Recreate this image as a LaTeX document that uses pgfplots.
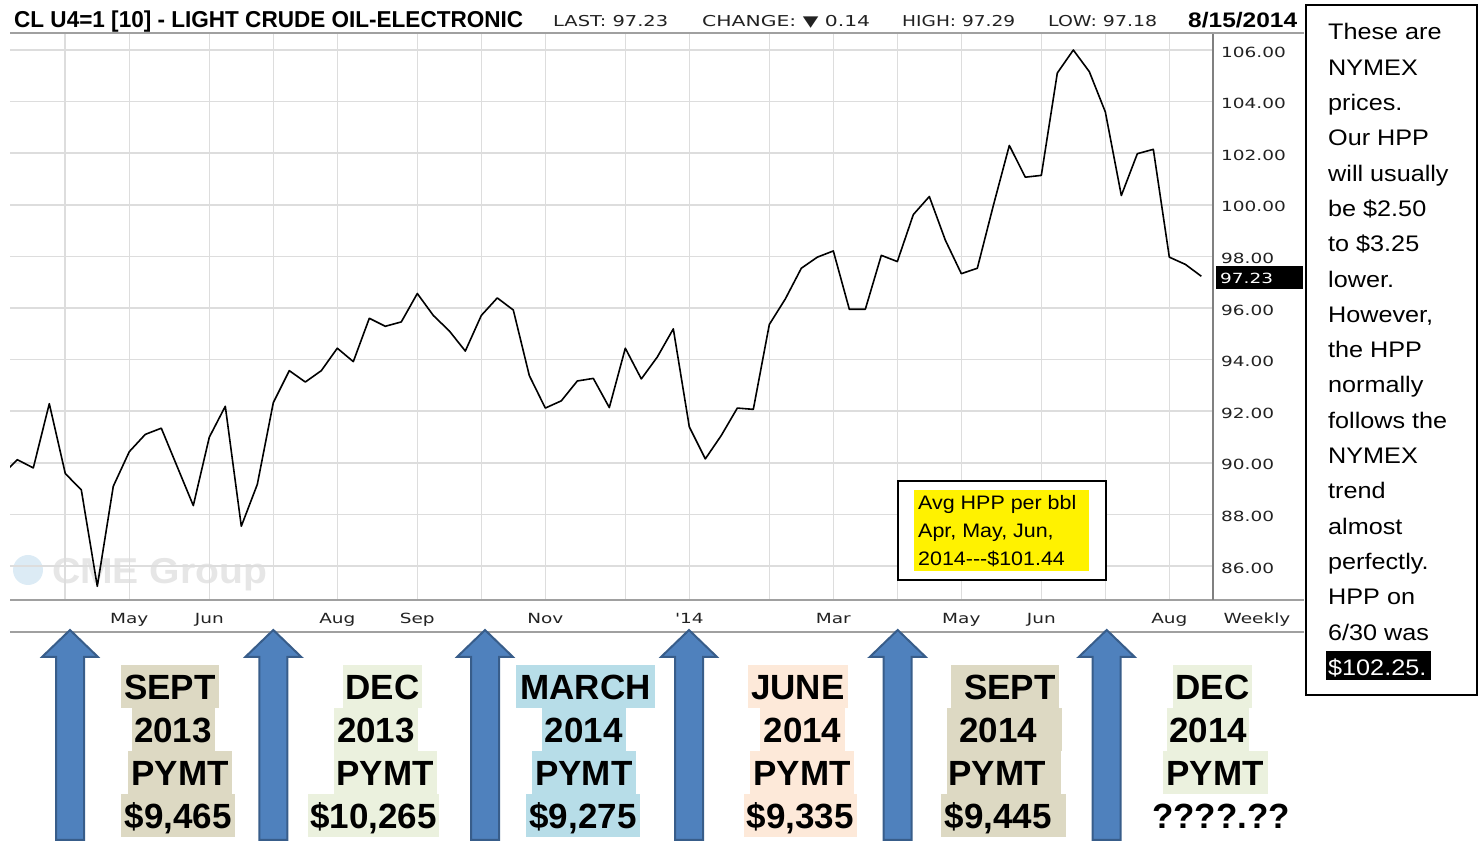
\documentclass[border=0pt]{standalone}
\usepackage{pgfplots}
\pgfplotsset{compat=1.18}
\usepackage{pgfplotstable}
\usepackage{graphicx}
\usepackage{fontspec}
\setmainfont{Liberation Sans}
\newfontfamily\chf{DejaVu Sans}
\definecolor{gridc}{HTML}{DDDDDD}
\definecolor{framec}{HTML}{A0A0A0}
\definecolor{khaki}{HTML}{DDD9C3}
\definecolor{lgreen}{HTML}{EBF1DE}
\definecolor{lblue}{HTML}{B7DDE8}
\definecolor{peach}{HTML}{FDE9D9}
\definecolor{arrowb}{HTML}{4F81BD}
\definecolor{arrowd}{HTML}{385D8A}
\definecolor{tickc}{HTML}{222222}
\definecolor{wm}{HTML}{E6E6E6}
\definecolor{cmeblue}{HTML}{DCEBF5}

\newcommand\tk[1]{\scalebox{1.32}[1]{\chf\fontsize{14}{14}\selectfont #1}}
\newcommand\rb[1]{\scalebox{1.12}[1]{\fontsize{22.5}{22.5}\selectfont #1}}
\newcommand\yb[1]{\scalebox{1.1}[1]{\fontsize{19.5}{19.5}\selectfont #1}}
\newcommand\biglab{\fontsize{35}{35}\selectfont\bfseries}
\newcommand\lab[6]{%
  \fill[#1] (#2,{665+43*#4}) rectangle (#3,{708+43*#4});
  \node[anchor=base, inner sep=0pt] at (#5,{700+43*#4}) {\biglab #6};}
\newcommand\arrowat[1]{%
  \draw[fill=arrowb, draw=arrowd, line width=2pt, line join=miter]
    (#1,630) -- ({#1+28},657) -- ({#1+14},657) -- ({#1+14},840) --
    ({#1-14},840) -- ({#1-14},657) -- ({#1-28},657) -- cycle;}

\pgfplotstableread{
k v
0 89.50
1 90.12
2 89.80
3 92.29
4 89.58
5 88.95
6 85.21
7 89.09
8 90.43
9 91.10
10 91.34
11 89.84
12 88.34
13 90.99
14 92.19
15 87.54
16 89.16
17 92.33
18 93.57
19 93.13
20 93.57
21 94.44
22 93.92
23 95.60
24 95.29
25 95.46
26 96.56
27 95.71
28 95.11
29 94.33
30 95.71
31 96.39
32 95.92
33 93.38
34 92.12
35 92.40
36 93.17
37 93.27
38 92.14
39 94.44
40 93.25
41 94.10
42 95.19
43 91.39
44 90.15
45 91.06
46 92.12
47 92.07
48 95.36
49 96.35
50 97.54
51 97.97
52 98.21
53 95.95
54 95.95
55 98.04
56 97.80
57 99.62
58 100.32
59 98.63
60 97.33
61 97.54
62 99.97
63 102.30
64 101.07
65 101.14
66 105.11
67 106.00
68 105.16
69 103.60
70 100.36
71 101.98
72 102.15
73 97.97
74 97.69
75 97.23
}\oil

\begin{document}
\begin{tikzpicture}
\useasboundingbox (0,0) rectangle (1481pt,842pt);
\begin{scope}[x=1pt,y=-1pt,shift={(0pt,842pt)}]
  % watermark
  \fill[cmeblue] (28,570) circle (15);
  \node[anchor=base west, inner sep=0pt, text=wm] at (52,584)
    {\resizebox{215pt}{\height}{\fontsize{36}{36}\selectfont\bfseries CME Group}};
\end{scope}

\begin{axis}[
  at={(10pt,242pt)}, anchor=south west,
  scale only axis, width=1203pt, height=567pt,
  xmin=0.544, xmax=75.73, ymin=84.68, ymax=106.66,
  axis line style={draw=none},
  major tick length=0pt,
  grid=major,
  major grid style={draw=gridc, line width=1.6pt},
  xtick={4,8,13,17,21,26,30,34,39,43,48,52,56,60,65,69,73},
  xticklabels={,\tk{May},\tk{Jun},,\tk{Aug},\tk{Sep},,\tk{Nov},,\tk{'14},,\tk{Mar},,\tk{May},\tk{Jun},,\tk{Aug}},
  xticklabel style={anchor=base, inner sep=0pt, yshift=-24pt, text=tickc},
  ytick={86,88,90,92,94,96,98,100,102,104,106},
  yticklabels={\tk{86.00},\tk{88.00},\tk{90.00},\tk{92.00},\tk{94.00},\tk{96.00},\tk{98.00},\tk{100.00},\tk{102.00},\tk{104.00},\tk{106.00}},
  yticklabel pos=right,
  yticklabel style={anchor=west, inner sep=0pt, xshift=8pt, yshift=-2pt, text=tickc},
  clip=true,
]
\addplot[black, line width=1.6pt, line join=round] table[x=k,y=v]{\oil};
\end{axis}

\begin{scope}[x=1pt,y=-1pt,shift={(0pt,842pt)}]
  % frame lines
  \draw[framec, line width=1.5pt] (10,33) -- (1304,33);
  \draw[framec, line width=1.5pt] (10,600) -- (1304,600);
  \draw[framec, line width=1.5pt] (10,632) -- (1304,632);
  \draw[gray, line width=1.5pt] (1213,34) -- (1213,600);
  \node[anchor=base, inner sep=0pt, text=tickc] at (1257,624) {\tk{Weekly}};
  % header
  \node[anchor=base west, inner sep=0pt] at (14,28)
    {\resizebox{509pt}{\height}{\fontsize{23}{23}\selectfont\bfseries CL U4=1 [10] - LIGHT CRUDE OIL-ELECTRONIC}};
  \node[anchor=base west, inner sep=0pt, text=tickc] at (553,27)
    {\resizebox{115pt}{\height}{\chf\fontsize{15}{15}\selectfont LAST: 97.23}};
  \node[anchor=base west, inner sep=0pt, text=tickc] at (702,27)
    {\resizebox{168pt}{\height}{\chf\fontsize{15}{15}\selectfont CHANGE: ▼ 0.14}};
  \node[anchor=base west, inner sep=0pt, text=tickc] at (902,27)
    {\resizebox{113pt}{\height}{\chf\fontsize{15}{15}\selectfont HIGH: 97.29}};
  \node[anchor=base west, inner sep=0pt, text=tickc] at (1048,27)
    {\resizebox{109pt}{\height}{\chf\fontsize{15}{15}\selectfont LOW: 97.18}};
  \node[anchor=base west, inner sep=0pt] at (1188,28)
    {\resizebox{109pt}{\height}{\fontsize{21}{21}\selectfont\bfseries 8/15/2014}};
  % last value box
  \fill[black] (1216,266) rectangle (1303,289);
  \node[anchor=west, inner sep=0pt, text=white] at (1220,278.5) {\tk{97.23}};
  % yellow box
  \draw[black, line width=2pt, fill=white] (898,481) rectangle (1106,580);
  \fill[yellow] (914,490) rectangle (1089,571);
  \node[anchor=base west, inner sep=0pt] at (918,510) {\yb{Avg HPP per bbl}};
  \node[anchor=base west, inner sep=0pt] at (918,538) {\yb{Apr, May, Jun,}};
  \node[anchor=base west, inner sep=0pt] at (918,566) {\yb{2014-{}-{}-\$101.44}};
  % right text box
  \draw[black, line width=2pt, fill=white] (1306,5) rectangle (1477,695);
  \foreach \t [count=\i from 0] in {These are,NYMEX,prices.,Our HPP,will usually,{be \$2.50},{to \$3.25},lower.,{However,},the HPP,normally,follows the,NYMEX,trend,almost,perfectly.,HPP on,6/30 was}
    \node[anchor=base west, inner sep=0pt] at (1328,{40+35.3*\i}) {\rb{\t}};
  \fill[black] (1326,651) rectangle (1431,680);
  \node[anchor=base west, inner sep=0pt, text=white] at (1328,675.4) {\rb{\$102.25.}};
  % arrows
  \arrowat{70}
  \arrowat{273.3}
  \arrowat{485}
  \arrowat{689}
  \arrowat{897.7}
  \arrowat{1106.7}
  % payment labels
  \lab{khaki}{121}{219}{0}{170}{SEPT}
  \lab{khaki}{131.7}{215}{1}{173}{2013}
  \lab{khaki}{128}{232}{2}{180}{PYMT}
  \lab{khaki}{121}{235}{3}{178.3}{\$9,465}
  \lab{lgreen}{343.3}{421.7}{0}{382.5}{DEC}
  \lab{lgreen}{334}{418}{1}{376}{2013}
  \lab{lgreen}{334}{437}{2}{385}{PYMT}
  \lab{lgreen}{308}{439}{3}{373.5}{\$10,265}
  \lab{lblue}{516}{655}{0}{585.5}{MARCH}
  \lab{lblue}{541.7}{625.7}{1}{583.7}{2014}
  \lab{lblue}{531.7}{636}{2}{583.8}{PYMT}
  \lab{lblue}{526}{640}{3}{583}{\$9,275}
  \lab{peach}{747.7}{847.7}{0}{797.7}{JUNE}
  \lab{peach}{760}{845}{1}{802.5}{2014}
  \lab{peach}{750}{854}{2}{802}{PYMT}
  \lab{peach}{744}{856.7}{3}{800.3}{\$9,335}
  \lab{khaki}{951}{1059}{0}{1009.7}{SEPT}
  \lab{khaki}{947.3}{1062.3}{1}{998.3}{2014}
  \lab{khaki}{947.3}{1061}{2}{997}{PYMT}
  \lab{khaki}{941}{1066}{3}{998.3}{\$9,445}
  \lab{lgreen}{1172.7}{1251.7}{0}{1212.5}{DEC}
  \lab{lgreen}{1166.7}{1249.3}{1}{1208}{2014}
  \lab{lgreen}{1163.3}{1267.7}{2}{1215}{PYMT}
  \node[anchor=base, inner sep=0pt] at (1221,829) {\biglab ????.??};
\end{scope}
\end{tikzpicture}
\end{document}
